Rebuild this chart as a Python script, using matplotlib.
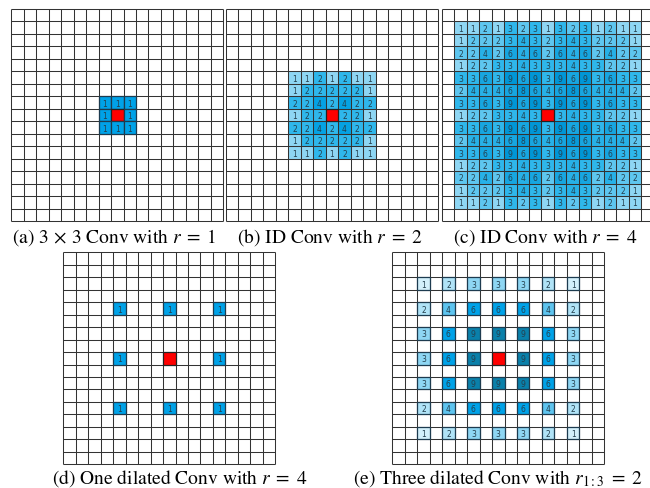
import numpy as np
import matplotlib
matplotlib.use('Agg')
import matplotlib.pyplot as plt
from matplotlib.patches import Rectangle
from matplotlib.colors import LinearSegmentedColormap, Normalize

# 17 x 17 input grid, output pixel in the middle (0 marks the red centre)
grid_n = 17

conv_a = [[1, 1, 1],
          [1, 0, 1],
          [1, 1, 1]]

id_b = [[1, 1, 2, 1, 2, 1, 1],
        [1, 2, 2, 2, 2, 2, 1],
        [2, 2, 4, 2, 4, 2, 2],
        [1, 2, 2, 0, 2, 2, 1],
        [2, 2, 4, 2, 4, 2, 2],
        [1, 2, 2, 2, 2, 2, 1],
        [1, 1, 2, 1, 2, 1, 1]]

id_c = [[1, 1, 2, 1, 3, 2, 3, 1, 3, 2, 3, 1, 2, 1, 1],
        [1, 2, 2, 2, 3, 4, 3, 2, 3, 4, 3, 2, 2, 2, 1],
        [2, 2, 4, 2, 6, 4, 6, 2, 6, 4, 6, 2, 4, 2, 2],
        [1, 2, 2, 3, 3, 4, 3, 3, 3, 4, 3, 3, 2, 2, 1],
        [3, 3, 6, 3, 9, 6, 9, 3, 9, 6, 9, 3, 6, 3, 3],
        [2, 4, 4, 4, 6, 8, 6, 4, 6, 8, 6, 4, 4, 4, 2],
        [3, 3, 6, 3, 9, 6, 9, 3, 9, 6, 9, 3, 6, 3, 3],
        [1, 2, 2, 3, 3, 4, 3, 0, 3, 4, 3, 3, 2, 2, 1],
        [3, 3, 6, 3, 9, 6, 9, 3, 9, 6, 9, 3, 6, 3, 3],
        [2, 4, 4, 4, 6, 8, 6, 4, 6, 8, 6, 4, 4, 4, 2],
        [3, 3, 6, 3, 9, 6, 9, 3, 9, 6, 9, 3, 6, 3, 3],
        [1, 2, 2, 3, 3, 4, 3, 3, 3, 4, 3, 3, 2, 2, 1],
        [2, 2, 4, 2, 6, 4, 6, 2, 6, 4, 6, 2, 4, 2, 2],
        [1, 2, 2, 2, 3, 4, 3, 2, 3, 4, 3, 2, 2, 2, 1],
        [1, 1, 2, 1, 3, 2, 3, 1, 3, 2, 3, 1, 2, 1, 1]]

dil_d = [[1, 1, 1],
         [1, 0, 1],
         [1, 1, 1]]

dil_e = [[1, 2, 3, 3, 3, 2, 1],
         [2, 4, 6, 6, 6, 4, 2],
         [3, 6, 9, 9, 9, 6, 3],
         [3, 6, 9, 0, 9, 6, 3],
         [3, 6, 9, 9, 9, 6, 3],
         [2, 4, 6, 6, 6, 4, 2],
         [1, 2, 3, 3, 3, 2, 1]]

captions = [r'(a) $3\,\times\,3$ Conv with $r\;=\;1$',
            r'(b) ID Conv with $r\;=\;2$',
            r'(c) ID Conv with $r\;=\;4$',
            r'(d) One dilated Conv with $r\;=\;4$',
            r'(e) Three dilated Conv with $r_{1:3}\;=\;2$']

plt.rcParams['font.family'] = 'STIXGeneral'
plt.rcParams['mathtext.fontset'] = 'stix'

W, H = 650, 489
fig = plt.figure(figsize=(W / 100, H / 100), dpi=100)

flat = LinearSegmentedColormap.from_list('flat', ['#00a2e8', '#00a2e8'])
cm_b = LinearSegmentedColormap.from_list('b', [(0, '#8ed6f3'), (1 / 3, '#2fb7eb'), (1, '#05a2e3')])
cm_c = LinearSegmentedColormap.from_list('c', [(0, '#8ed6f3'), (0.25, '#2fb7eb'), (1, '#0096d6')])
cm_e = LinearSegmentedColormap.from_list('e', [(0, '#d3f0fb'), (0.25, '#8ed6f3'),
                                               (0.625, '#00a2e8'), (1, '#0a80aa')])


def draw_panel(left, top, values, start, step, cmap, vmax, edge=False):
    size = 212.0
    ax = fig.add_axes([left / W, 1 - (top + size) / H, size / W, size / H])
    ax.set_xlim(0, grid_n)
    ax.set_ylim(grid_n, 0)
    ax.axis('off')
    norm = Normalize(1, vmax)
    vals = np.array(values)
    for i in range(vals.shape[0]):
        for j in range(vals.shape[1]):
            r, c = start + i * step, start + j * step
            v = vals[i, j]
            if v == 0:
                ax.add_patch(Rectangle((c, r), 1, 1, fc='#ff0000', ec='#222222', lw=0.9, zorder=3))
                continue
            ax.add_patch(Rectangle((c, r), 1, 1, fc=cmap(norm(v)),
                                   ec='#1d3b4f' if edge else 'none', lw=0.9, zorder=1 if not edge else 3))
            ax.text(c + 0.5, r + 0.55, str(v), ha='center', va='center', fontsize=5.5,
                    family='DejaVu Sans', color='#24404f', zorder=4)
    ax.vlines(np.arange(grid_n + 1), 0, grid_n, colors='#333333', lw=0.75, zorder=2, clip_on=False)
    ax.hlines(np.arange(grid_n + 1), 0, grid_n, colors='#333333', lw=0.75, zorder=2, clip_on=False)
    return ax


draw_panel(11.3, 10, conv_a, 7, 1, flat, 1, edge=True)
draw_panel(226.0, 10, id_b, 5, 1, cm_b, 4)
draw_panel(441.7, 10, id_c, 1, 1, cm_c, 9)
draw_panel(63.3, 253.3, dil_d, 4, 4, flat, 1, edge=True)
draw_panel(392.3, 253.3, dil_e, 2, 2, cm_e, 9, edge=True)

cap_pos = [(114, 238), (330, 238), (545, 238), (180, 479), (498, 479)]
for (x, y), txt in zip(cap_pos, captions):
    fig.text(x / W, 1 - y / H, txt, ha='center', va='center', fontsize=14)

fig.savefig('out.png', dpi=100)
